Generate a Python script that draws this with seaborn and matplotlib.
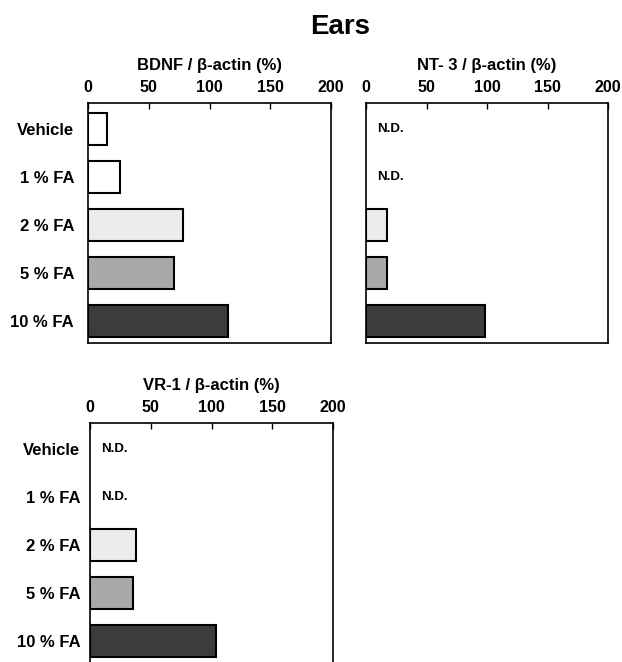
import numpy as np
import pandas as pd
import matplotlib
matplotlib.use("Agg")
import matplotlib.pyplot as plt
import seaborn as sns

# Groups and their bar fills
groups = ["Vehicle", "1 % FA", "2 % FA", "5 % FA", "10 % FA"]
fills = ["#ffffff", "#ffffff", "#ececec", "#a9a9a9", "#3c3c3c"]

# Expression relative to beta-actin (%); nan = not detected
bdnf = [16, 26, 78, 71, 115]
nt3 = [np.nan, np.nan, 17, 17, 98]
vr1 = [np.nan, np.nan, 37.5, 35.5, 104]

panel_titles = ["BDNF / β-actin (%)", "NT- 3 / β-actin (%)", "VR-1 / β-actin (%)"]
x_ticks = [0, 50, 100, 150, 200]

sns.set_theme(style="white")
plt.rcParams["font.family"] = ["Liberation Sans", "DejaVu Sans"]
plt.rcParams["font.weight"] = "bold"
plt.rcParams["text.color"] = "black"
plt.rcParams["axes.labelcolor"] = "black"
plt.rcParams["xtick.color"] = "black"
plt.rcParams["ytick.color"] = "black"

W, H = 622, 662
fig = plt.figure(figsize=(W / 100, H / 100), dpi=100)


def px_axes(left, top, width, height):
    return fig.add_axes([left / W, (H - top - height) / H, width / W, height / H])


axes = [
    px_axes(88, 103, 243, 240),
    px_axes(366, 103, 242, 240),
    px_axes(90, 423, 243, 240),
]
series = [bdnf, nt3, vr1]
show_ylabels = [True, False, True]
y_pads = [10, 7, 7]

for ax, vals, title, show_y, ypad in zip(axes, series, panel_titles, show_ylabels, y_pads):
    df = pd.DataFrame({"group": groups, "value": vals})
    sns.barplot(
        data=df.dropna(), x="value", y="group", hue="group",
        order=groups, hue_order=groups, palette=dict(zip(groups, fills)),
        orient="h", width=0.67, edgecolor="black", linewidth=1.5,
        legend=False, ax=ax,
    )
    for i, v in enumerate(vals):
        if np.isnan(v):
            ax.text(9, i, "N.D.", ha="left", va="center",
                    fontsize=9.5, fontweight="bold", color="black")
    ax.set_xlim(0, 200)
    ax.set_ylim(4.45, -0.55)
    ax.set_xticks(x_ticks)
    ax.set_xticklabels([str(t) for t in x_ticks], fontsize=11.5, fontweight="bold")
    ax.xaxis.tick_top()
    ax.xaxis.set_label_position("top")
    ax.set_xlabel(title, fontsize=12, fontweight="bold", labelpad=7)
    ax.set_ylabel("")
    ax.tick_params(axis="x", direction="in", length=4, width=1, pad=6)
    ax.tick_params(axis="y", length=0, pad=ypad)
    ax.set_yticks(range(len(groups)))
    if show_y:
        ax.set_yticklabels(groups, fontsize=12, fontweight="bold")
    else:
        ax.set_yticklabels([])
    for sp in ax.spines.values():
        sp.set_visible(True)
        sp.set_color("black")
        sp.set_linewidth(1.2)

fig.text(340 / W, 1 - 27 / H, "Ears", ha="center", va="center",
         fontsize=20, fontweight="bold", color="black")

fig.savefig("out.png", dpi=100, facecolor="white")
